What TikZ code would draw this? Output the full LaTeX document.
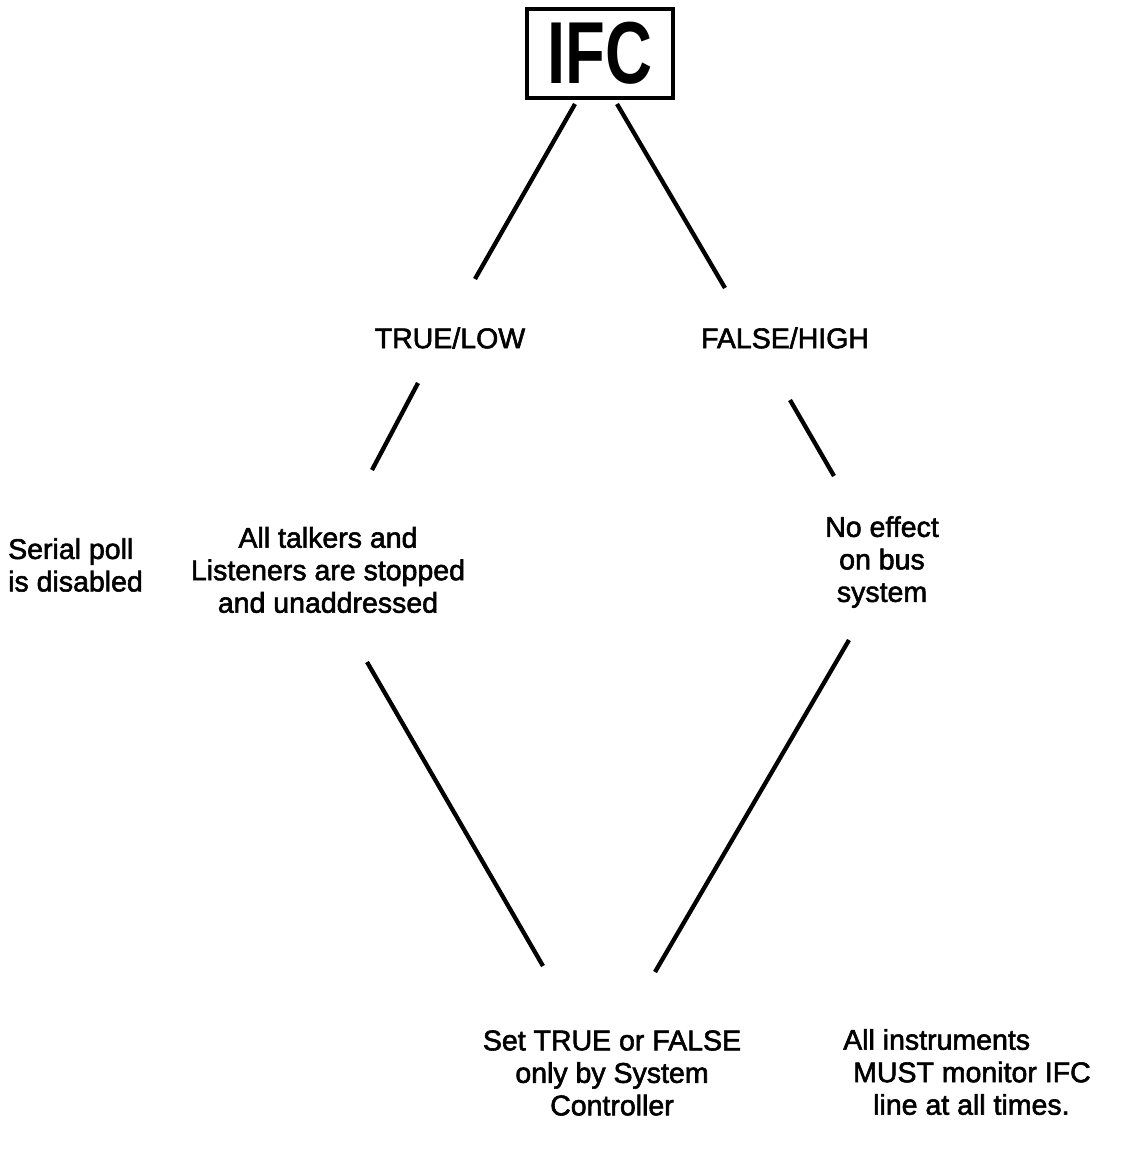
\documentclass[tikz,border=0pt]{standalone}
\usepackage{fontspec}
\usepackage{graphicx}
\setmainfont{Liberation Sans}
\newfontfamily\medium{Liberation Sans}[FakeBold=2]
\begin{document}
\begin{tikzpicture}[x=1pt,y=-1pt,
  label/.style={font=\medium\fontsize{28.5}{32.5}\selectfont, align=center, inner sep=0pt},
  wire/.style={line width=4.3pt},
  titlebox/.style={draw, line width=4pt, minimum width=146pt, minimum height=89pt, inner sep=0pt}]
  \useasboundingbox (0,0) rectangle (1123,1170);

  % title box
  \node[titlebox] (ifc) at (600,53.5) {\scalebox{0.74}[1]{\fontsize{88}{88}\selectfont\bfseries IFC}};

  % states
  \node[label] (low) at (450,338) {TRUE/LOW};
  \node[label] (high) at (785,338) {FALSE/HIGH};

  % effects
  \node[label, align=left, anchor=west] (poll) at (8,565) {Serial poll\\is disabled};
  \node[label] (stop) at (328,570) {All talkers and\\Listeners are stopped\\and unaddressed};
  \node[label] (noeff) at (882,562) {No effect\\on bus\\system};

  % control notes
  \node[label] (ctrl) at (612,1073) {Set TRUE or FALSE\\only by System\\Controller};
  \node[label, align=left, anchor=west] (mon) at (843,1072)
    {All instruments\\\hspace*{10pt}MUST monitor IFC\\\hspace*{30pt}line at all times.};

  % connector end points
  \coordinate (a1) at (575,104);  \coordinate (a2) at (475,279);
  \coordinate (b1) at (617,104);  \coordinate (b2) at (725,288);
  \coordinate (c1) at (418,383);  \coordinate (c2) at (372,470);
  \coordinate (d1) at (790,400);  \coordinate (d2) at (834,476);
  \coordinate (e1) at (367,662);  \coordinate (e2) at (543,966);
  \coordinate (f1) at (849,640);  \coordinate (f2) at (655,972);

  \draw[wire] (a1) -- (a2);
  \draw[wire] (b1) -- (b2);
  \draw[wire] (c1) -- (c2);
  \draw[wire] (d1) -- (d2);
  \draw[wire] (e1) -- (e2);
  \draw[wire] (f1) -- (f2);
\end{tikzpicture}
\end{document}
